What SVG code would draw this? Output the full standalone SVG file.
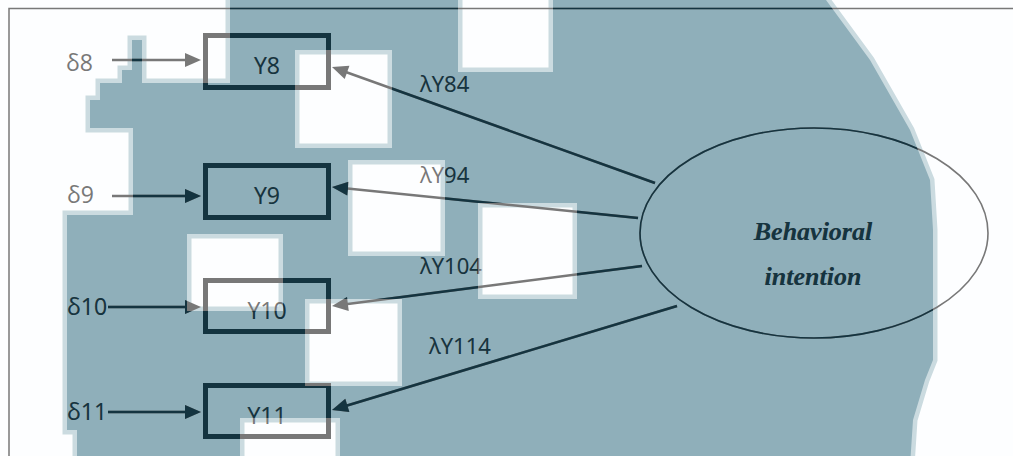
<svg xmlns="http://www.w3.org/2000/svg" xmlns:xlink="http://www.w3.org/1999/xlink" width="1013" height="456" viewBox="0 0 1013 456">
  <style>
    .bg { fill: #fdfeff; }
    .blob { fill: #8fafba; stroke: #cbdbe0; stroke-width: 9; stroke-linejoin: miter; paint-order: stroke; }
    .ink { color: #787878; }
    .ink-dark { color: #143440; }
    .frame { fill: none; stroke: currentColor; stroke-width: 1.5; }
    .box rect { fill: none; stroke: currentColor; stroke-width: 5; }
    .wire { fill: none; stroke: currentColor; stroke-width: 2.5; }
    .ah { fill: currentColor; stroke: none; }
    .ell { fill: none; stroke: currentColor; stroke-width: 1.6; }
    .sans { font-family: "Open Sans", "Noto Sans", "DejaVu Sans", sans-serif; fill: currentColor; }
    .err { font-size: 23px; }
    .obs { font-size: 23px; text-anchor: middle; }
    .load { font-size: 22px; }
    .latent { font-family: "Liberation Serif", "Times New Roman", serif; font-weight: bold; font-style: italic; font-size: 26px; text-anchor: middle; fill: currentColor; }
  </style>
  <defs>
    <!-- tinted backdrop region with square cut-outs -->
    <path id="blobShape" fill-rule="evenodd" clip-rule="evenodd"
      d="M230,-10 L826,-10 L826,0 L870,60 L910,130 L930,180 L933,230 L933,360 L925,380 L913,420 L910,466
         L77,466 L77,430 L67,430 L67,215 L133,215 L133,128 L90,128 L90,100 L100,100 L100,83
         L122,83 L122,70 L132,70 L132,40 L142,40 L142,83 L230,83 Z
         M458,-5 H553 V72 H458 Z
         M295,50 H392 V148 H295 Z
         M348,160 H445 V256 H348 Z
         M478,203 H577 V299 H478 Z
         M187,234 H283 V311 H187 Z
         M305,299 H402 V386 H305 Z
         M240,418 H340 V470 H240 Z"/>
    <clipPath id="blobClip">
      <use href="#blobShape"/>
    </clipPath>
    <!-- arrowhead pointing along +x, tip at origin -->
    <path id="head" d="M0,0 L-16,-7 L-16,7 Z"/>
  </defs>

  <rect class="bg" x="0" y="0" width="1013" height="456"/>
  <use href="#blobShape" class="blob"/>

  <g class="ink">
    <g id="diagram">
      <path class="frame" d="M9,456 V8.5 H1013"/>

      <g id="connectors">
        <!-- error terms into indicators -->
        <line class="wire" x1="112" y1="60" x2="192" y2="60"/>
        <use href="#head" class="ah" transform="translate(201,60)"/>
        <line class="wire" x1="112" y1="196" x2="192" y2="196"/>
        <use href="#head" class="ah" transform="translate(201,196)"/>
        <line class="wire" x1="108" y1="307" x2="192" y2="307"/>
        <use href="#head" class="ah" transform="translate(201,307)"/>
        <line class="wire" x1="108" y1="412" x2="192" y2="412"/>
        <use href="#head" class="ah" transform="translate(201,412)"/>

        <!-- loadings from the latent factor -->
        <line class="wire" x1="655" y1="183" x2="339.5" y2="69.7"/>
        <use href="#head" class="ah" transform="translate(332,67) rotate(199.75)"/>
        <line class="wire" x1="638" y1="218" x2="340" y2="187.8"/>
        <use href="#head" class="ah" transform="translate(332,187) rotate(185.8)"/>
        <line class="wire" x1="642" y1="266" x2="340" y2="305"/>
        <use href="#head" class="ah" transform="translate(332,306) rotate(172.65)"/>
        <line class="wire" x1="677" y1="306" x2="339.7" y2="407.7"/>
        <use href="#head" class="ah" transform="translate(332,410) rotate(163.2)"/>

        <text class="sans load" x="420" y="92">λY84</text>
        <text class="sans load" x="420" y="183">λY94</text>
        <text class="sans load" x="420" y="274">λY104</text>
        <text class="sans load" x="429" y="354">λY114</text>
      </g>

      <g id="d8"><text class="sans err" x="66" y="71">δ8</text></g>
      <g id="d9"><text class="sans err" x="67" y="203">δ9</text></g>
      <g id="d10"><text class="sans err" x="67" y="315">δ10</text></g>
      <g id="d11"><text class="sans err" x="67" y="420">δ11</text></g>

      <g id="y8" class="box">
        <rect x="205.5" y="35.5" width="123" height="52"/>
        <text class="sans obs" x="267" y="74">Y8</text>
      </g>
      <g id="y9" class="box">
        <rect x="205.5" y="165.5" width="123" height="52"/>
        <text class="sans obs" x="267" y="204">Y9</text>
      </g>
      <g id="y10" class="box">
        <rect x="205.5" y="280.5" width="123" height="51"/>
        <text class="sans obs" x="267" y="319">Y10</text>
      </g>
      <g id="y11" class="box">
        <rect x="205.5" y="385.5" width="123" height="51"/>
        <text class="sans obs" x="267" y="424">Y11</text>
      </g>

      <g id="behavioral-intention">
        <ellipse class="ell" cx="814" cy="233" rx="174" ry="105"/>
        <text class="latent" x="813" y="240">Behavioral</text>
        <text class="latent" x="813" y="285">intention</text>
      </g>
    </g>
  </g>

  <!-- darker ink where it sits over the tinted region -->
  <use href="#diagram" class="ink-dark" clip-path="url(#blobClip)"/>
</svg>
